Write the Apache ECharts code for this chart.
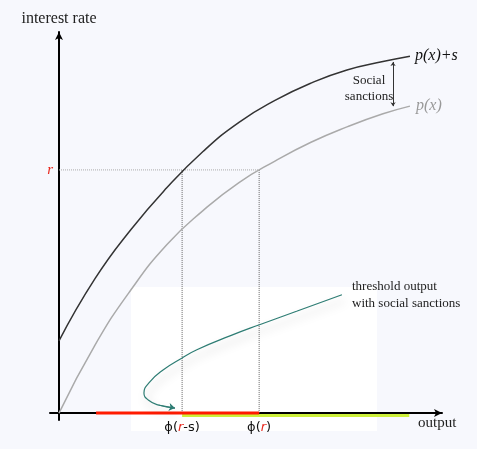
<!DOCTYPE html>
<html>
<head>
<meta charset="utf-8">
<script src="https://cdn.jsdelivr.net/npm/echarts@6/dist/echarts.min.js"></script>
<style>
	html, body { margin: 0; padding: 0; background: #f7f8fd; }
	#chart { width: 477px; height: 449px; }
</style>
</head>
<body>
<div id="chart"></div>
<script>
	// curves (output, interest rate)
	const outputs = [0, 1, 2, 3, 4, 5, 6, 7, 8, 9, 9.75]
	const upperRates = [1.88, 3.50, 4.78, 5.87, 6.81, 7.57, 8.14, 8.59, 8.93, 9.15, 9.29]
	const lowerRates = [0, 1.77, 3.21, 4.39, 5.27, 6.00, 6.56, 7.05, 7.45, 7.79, 7.99]
	const rLevel = 6.33
	const phiRminusS = 3.42
	const phiR = 5.56
	const redBand = [[1.03, 0], [5.56, 0]]
	const greenBand = [[3.42, -0.06], [9.73, -0.06]]
	const sanctionGap = [[9.28, 7.99], [9.28, 9.14]]
	// pointer from the note down to phi(r-s)
	const pointerCurve = [[7.86, 3.08], [6.60, 2.65], [5.57, 2.30], [4.75, 2.01], [3.83, 1.65], [3.41, 1.43],
		[2.90, 1.13], [2.53, 0.82], [2.36, 0.52], [2.48, 0.34], [2.76, 0.21], [3.22, 0.13]]

	const upperCurve = outputs.map((x, i) => [x, upperRates[i]])
	const lowerCurve = outputs.map((x, i) => [x, lowerRates[i]])

	const serif = '"Liberation Serif", "DejaVu Serif", serif'
	const chart = echarts.init(document.getElementById('chart'))

	const option = {
		backgroundColor: '#f7f8fd',
		animation: false,
		grid: { left: 50, right: 35, top: 32, bottom: 29 },
		graphic: [
			{ type: 'rect', z: -10, left: 131, top: 287, shape: { width: 246, height: 144 }, style: { fill: '#ffffff' } },
			{ type: 'text', x: 369, y: 73, style: { text: 'Social\nsanctions', align: 'center', font: '13px ' + serif, fill: '#222', lineHeight: 16 } },
			{ type: 'text', left: 352, top: 278, style: { text: 'threshold output\nwith social sanctions', font: '13px ' + serif, fill: '#222', lineHeight: 17 } }
		],
		xAxis: {
			type: 'value', min: -0.25, max: 10.64, z: 3,
			name: 'output', nameLocation: 'end', nameGap: -24,
			nameTextStyle: { fontFamily: serif, fontSize: 15, color: '#222', align: 'left', verticalAlign: 'top', padding: [2, 0, 0, 0] },
			axisLine: { onZero: true, symbol: ['none', 'arrow'], symbolSize: [6, 8], lineStyle: { color: '#000', width: 2 } },
			axisTick: { show: false },
			splitLine: { show: false },
			axisLabel: {
				customValues: [phiRminusS, phiR], margin: 1,
				formatter: v => v === phiR ? '{a|ϕ(}{b|r}{a|)}' : '{a|ϕ(}{b|r}{a|-s)}',
				rich: {
					a: { fontFamily: 'DejaVu Sans', fontSize: 13, color: '#111' },
					b: { fontFamily: 'DejaVu Sans', fontSize: 13, color: '#e8281e', fontStyle: 'italic' }
				}
			}
		},
		yAxis: {
			type: 'value', min: -0.18, max: 9.92, z: 3,
			name: 'interest rate', nameLocation: 'end', nameGap: 5,
			nameTextStyle: { fontFamily: serif, fontSize: 16, color: '#222' },
			axisLine: { onZero: true, symbol: ['none', 'arrow'], symbolSize: [6, 8], lineStyle: { color: '#000', width: 2 } },
			axisTick: { show: false },
			splitLine: { show: false },
			axisLabel: {
				customValues: [rLevel], margin: -3,
				formatter: () => 'r',
				fontFamily: serif, fontSize: 15, fontStyle: 'italic', color: '#e8281e'
			}
		},
		series: [
			{
				type: 'line', data: greenBand, z: 2, symbol: 'none', silent: true,
				lineStyle: { color: '#cdf03a', width: 3 }
			},
			{
				type: 'line', data: redBand, z: 4, symbol: 'none', silent: true,
				lineStyle: { color: '#ff1a00', width: 3 }
			},
			{
				type: 'line', data: [[0, rLevel], [phiR, rLevel]], symbol: 'none', silent: true,
				lineStyle: { color: '#aaa', width: 1, type: 'dotted' }
			},
			{
				type: 'line', data: [[phiRminusS, 0], [phiRminusS, rLevel]], symbol: 'none', silent: true,
				lineStyle: { color: '#666', width: 1, type: 'dotted' }
			},
			{
				type: 'line', data: [[phiR, 0], [phiR, rLevel]], symbol: 'none', silent: true,
				lineStyle: { color: '#666', width: 1, type: 'dotted' }
			},
			{
				name: 'p(x)', type: 'line', data: lowerCurve, smooth: true, symbol: 'none', z: 5,
				lineStyle: { color: '#aaaaaa', width: 1.5 },
				endLabel: { show: true, formatter: 'p(x)', distance: 6, fontFamily: serif, fontStyle: 'italic', fontSize: 16, color: '#999' }
			},
			{
				name: 'p(x)+s', type: 'line', data: upperCurve, smooth: true, symbol: 'none', z: 5,
				lineStyle: { color: '#333333', width: 1.5 },
				endLabel: { show: true, formatter: 'p(x)+s', distance: 5, fontFamily: serif, fontStyle: 'italic', fontSize: 16, color: '#111' }
			},
			{
				type: 'lines', coordinateSystem: 'cartesian2d', z: 5, silent: true,
				symbol: ['arrow', 'arrow'], symbolSize: 4,
				lineStyle: { color: '#333', width: 1, opacity: 1 },
				data: [{ coords: sanctionGap }]
			},
			{
				type: 'line', data: pointerCurve, smooth: true, symbol: 'none', z: 6, silent: true,
				lineStyle: { color: '#2e7d74', width: 1.2, shadowColor: 'rgba(0,0,0,0.25)', shadowBlur: 10, shadowOffsetX: 3, shadowOffsetY: 6 }
			},
			{
				type: 'lines', coordinateSystem: 'cartesian2d', z: 6, silent: true,
				symbol: ['none', 'arrow'], symbolSize: 6,
				lineStyle: { color: '#2e7d74', width: 1.2, opacity: 1 },
				data: [{ coords: pointerCurve.slice(-2) }]
			}
		]
	}
	chart.setOption(option)
</script>
</body>
</html>
